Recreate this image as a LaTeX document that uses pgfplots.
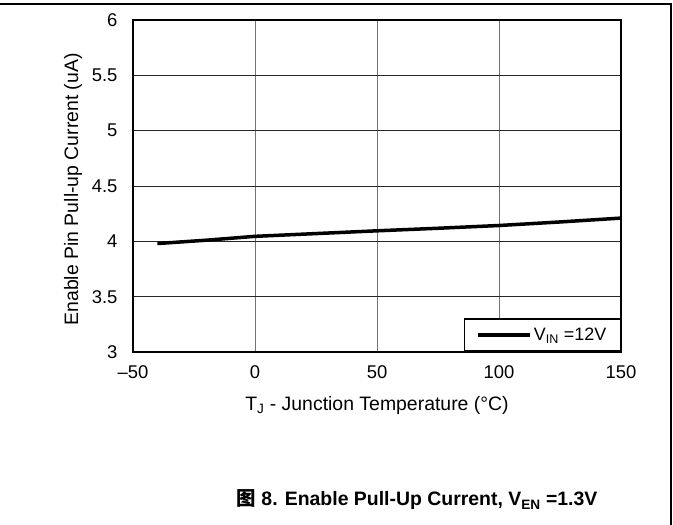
\documentclass[border=0pt]{standalone}
\usepackage{fontspec}
\setmainfont{Liberation Sans}
\newfontfamily\cjk{Noto Sans CJK SC}
\usepackage{pgfplots}
\pgfplotsset{compat=1.18}
\begin{document}
\begin{tikzpicture}[x=1bp,y=1bp]
\path[use as bounding box] (0,0) rectangle (673,525);
\draw[line width=1.2bp] (0,521) -- (671,521) -- (671,0);
\begin{axis}[
  at={(133bp,173bp)}, anchor=south west,
  scale only axis, width=488bp, height=332bp,
  xmin=-50, xmax=150, ymin=3, ymax=6,
  xtick={-50,0,50,100,150},
  xticklabels={\textendash50,0,50,100,150},
  ytick={3,3.5,4,4.5,5,5.5,6},
  yticklabels={3,3.5,4,4.5,5,5.5,6},
  major tick length=0pt,
  grid=major,
  x grid style={black!55, line width=1bp},
  y grid style={black!85, line width=0.8bp},
  axis line style={line width=2bp},
  tick label style={font=\fontsize{18.5}{22}\selectfont},
  xticklabel style={yshift=-10bp},
  yticklabel style={xshift=-12bp},
  label style={font=\fontsize{19.5}{23}\selectfont},
  xlabel={T\textsubscript{J} - Junction Temperature (°C)},
  xlabel style={at={(axis description cs:0.5,-0.176)}, anchor=base},
  ylabel={Enable Pin Pull-up Current (uA)},
  ylabel style={at={(axis description cs:-0.123,0.49)}, anchor=center},
  legend style={at={(1,0)}, anchor=south east, draw=black, line width=1.5bp,
    font=\fontsize{18}{21}\selectfont, inner xsep=12bp, inner ysep=7bp,
    cells={anchor=west}},
  legend image code/.code={\draw[line width=3.5bp, black] (0bp,0bp) -- (52bp,0bp);},
]
\addplot[line width=3.5bp, black] coordinates {
  (-40,3.98) (-20,4.01) (0,4.045) (25,4.07) (50,4.095) (75,4.118)
  (100,4.143) (125,4.175) (150,4.21)};
\addlegendentry{V\textsubscript{IN} =12V}
\end{axis}
\node[anchor=base, font=\bfseries\fontsize{19.5}{22}\selectfont] at (417,19)
  {{\cjk\bfseries 图} 8. Enable Pull-Up Current, V\textsubscript{EN} =1.3V};
\end{tikzpicture}
\end{document}
